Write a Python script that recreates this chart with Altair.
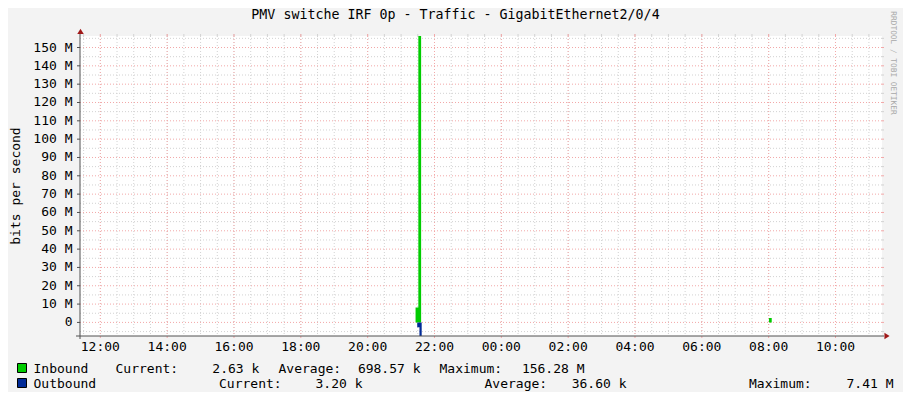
import altair as alt
import pandas as pd

# ---------------- data ----------------
TITLE = "PMV switche IRF 0p - Traffic - GigabitEthernet2/0/4"
Y_TITLE = "bits per second"
SIDE_TEXT = "RRDTOOL / TOBI OETIKER"

START = "2024-05-06T11:23:30"
END = "2024-05-07T11:23:30"

in_times = ["2024-05-06T11:23:30", "2024-05-06T21:26:00", "2024-05-06T21:31:00",
            "2024-05-06T21:36:00", "2024-05-07T08:00:30", "2024-05-07T08:05:30",
            "2024-05-07T11:23:30"]
in_values = [2630, 8.2e6, 156.28e6, 2630, 2.4e6, 2630, 2630]

out_times = ["2024-05-06T11:23:30", "2024-05-06T21:29:00", "2024-05-06T21:33:00",
             "2024-05-06T21:37:00", "2024-05-07T11:23:30"]
out_values = [3200, 2.7e6, 7.41e6, 3200, 3200]

major_times = ["2024-05-06T12:00", "2024-05-06T14:00", "2024-05-06T16:00", "2024-05-06T18:00",
               "2024-05-06T20:00", "2024-05-06T22:00", "2024-05-07T00:00", "2024-05-07T02:00",
               "2024-05-07T04:00", "2024-05-07T06:00", "2024-05-07T08:00", "2024-05-07T10:00"]
minor_times = [t.strftime("%Y-%m-%dT%H:%M") for t in
               pd.date_range("2024-05-06T11:30", "2024-05-07T11:00", freq="30min")]

y_major = [0, 10e6, 20e6, 30e6, 40e6, 50e6, 60e6, 70e6, 80e6, 90e6, 100e6,
           110e6, 120e6, 130e6, 140e6, 150e6]
y_minor = [-5e6, 5e6, 15e6, 25e6, 35e6, 45e6, 55e6, 65e6, 75e6, 85e6, 95e6,
           105e6, 115e6, 125e6, 135e6, 145e6, 155e6]
Y_MIN = -7.41e6
Y_MAX = 156.28e6

series_names = ["Inbound", "Outbound"]
stat_current = ["2.63 k", "3.20 k"]
stat_average = ["698.57 k", "36.60 k"]
stat_maximum = ["156.28 M", "7.41 M"]

# ---------------- style ----------------
FONT = "DejaVu Sans Mono"
FS = 13
IN_COLOR = "#00CC00"
OUT_COLOR = "#002A97"
MGRID = "#F2A8A8"
GRID = "#D2D2D2"
AXIS = "#505050"
ARROW = "#A01818"
W, H = 802, 300


def dt(s):
    t = pd.Timestamp(s)
    return alt.DateTime(year=t.year, month=t.month, date=t.day,
                        hours=t.hour, minutes=t.minute, seconds=t.second)


xscale = alt.Scale(domain=[dt(START), dt(END)])
yscale = alt.Scale(domain=[Y_MIN, Y_MAX], nice=False, zero=False)
one = pd.DataFrame({"k": [0]})

df_vmin = pd.DataFrame({"time": minor_times})
df_vmaj = pd.DataFrame({"time": major_times})
df_hmin = pd.DataFrame({"v": y_minor})
df_hmaj = pd.DataFrame({"v": y_major})


def vrule(df, color, y1, y2, dash):
    kw = dict(color=color, strokeWidth=1)
    if dash:
        kw["strokeDash"] = [1, 2]
    return alt.Chart(df).mark_rule(**kw).encode(
        x=alt.X("time:T", scale=xscale, axis=None), y=alt.value(y1), y2=alt.value(y2))


def hrule(df, color, x1, x2, dash):
    kw = dict(color=color, strokeWidth=1)
    if dash:
        kw["strokeDash"] = [1, 2]
    return alt.Chart(df).mark_rule(**kw).encode(
        y=alt.Y("v:Q", scale=yscale, axis=None), x=alt.value(x1), x2=alt.value(x2))


def txt(s, x, y, align="left", color="#000000", size=FS, angle=0, baseline="alphabetic"):
    return alt.Chart(one).mark_text(text=s, align=align, baseline=baseline, font=FONT,
                                    fontSize=size, color=color, angle=angle).encode(
        x=alt.value(x), y=alt.value(y))


df_in = pd.DataFrame({"time": in_times, "bps": in_values})
df_out = pd.DataFrame({"time": out_times, "bps": out_values})

area_in = alt.Chart(df_in).mark_area(interpolate="step-after", color=IN_COLOR, opacity=1).encode(
    x=alt.X("time:T", scale=xscale, axis=None),
    y=alt.Y("bps:Q", scale=yscale, axis=None),
    y2=alt.datum(0))

area_out = alt.Chart(df_out).transform_calculate(neg="-datum.bps").mark_area(
    interpolate="step-after", color=OUT_COLOR, opacity=1).encode(
    x=alt.X("time:T", scale=xscale, axis=None),
    y=alt.Y("neg:Q", scale=yscale, axis=None),
    y2=alt.datum(0))

layers = [
    vrule(df_vmin, GRID, 0, H, True),
    hrule(df_hmin, GRID, 0, W, True),
    vrule(df_vmaj, MGRID, 0, H, True),
    hrule(df_hmaj, MGRID, 0, W, True),
    vrule(df_vmin, GRID, -2, 0, False),
    vrule(df_vmaj, MGRID, -2, 0, False),
    vrule(df_vmaj, MGRID, H, H + 2, False),
    hrule(df_hmaj, MGRID, W, W + 2, False),
    hrule(df_hmin, GRID, W, W + 2, False),
    area_in,
    area_out,
]

# axis lines, ticks and arrows
layers.append(alt.Chart(one).mark_rule(color=AXIS, strokeWidth=1).encode(
    x=alt.value(-4), x2=alt.value(W + 2), y=alt.value(H)))
layers.append(alt.Chart(one).mark_rule(color=AXIS, strokeWidth=1).encode(
    x=alt.value(0), y=alt.value(-3), y2=alt.value(H + 3)))
layers.append(hrule(df_hmaj, AXIS, -3, 0, False))
layers.append(alt.Chart(one).mark_point(shape="M-1,0.8L1,0.8L0,-0.8Z", filled=True, size=42,
                                        color=ARROW, opacity=1).encode(
    x=alt.value(0.5), y=alt.value(-4.6)))
layers.append(alt.Chart(one).mark_point(shape="M-0.8,-1L0.8,0L-0.8,1Z", filled=True, size=42,
                                        color=ARROW, opacity=1).encode(
    x=alt.value(W + 5), y=alt.value(H)))

# tick labels through the scales
layers.append(alt.Chart(df_hmaj).transform_calculate(
    lbl="datum.v == 0 ? '0' : format(datum.v / 1000000, 'd') + ' M'").mark_text(
    align="right", baseline="middle", font=FONT, fontSize=FS, color="#000000").encode(
    y=alt.Y("v:Q", scale=yscale, axis=None), x=alt.value(-7.5), text="lbl:N"))
layers.append(alt.Chart(df_vmaj).mark_text(
    align="center", baseline="top", font=FONT, fontSize=FS, color="#000000").encode(
    x=alt.X("time:T", scale=xscale, axis=None), y=alt.value(H + 5),
    text=alt.Text("time:T", format="%H:%M")))

# titles
layers.append(txt(Y_TITLE, -64.5, 150, align="center", angle=270, baseline="middle"))
layers.append(txt(TITLE, 375.5, -17.5, align="center", size=13.3))
layers.append(txt(SIDE_TEXT, 813, 27, align="center", color="#A8A8A8", size=7.8,
                  angle=90, baseline="middle"))

# legend
colors = [IN_COLOR, OUT_COLOR]
rows_y = [337, 352]
cur_lbl_x = [35.5, 139]
cur_val_x = [179.3, 282.5]
avg_lbl_x = [198.5, 404.5]
avg_val_x = [340.5, 546.5]
max_lbl_x = [359.5, 669]
max_val_x = [504.5, 813.5]
for i in range(2):
    yb = rows_y[i]
    layers.append(alt.Chart(one).mark_rect(color=colors[i], stroke="#000000", strokeWidth=1).encode(
        x=alt.value(-62.5), x2=alt.value(-53.5), y=alt.value(yb - 9.5), y2=alt.value(yb - 0.5)))
    layers.append(txt(series_names[i], -46.5, yb))
    layers.append(txt("Current:", cur_lbl_x[i], yb))
    layers.append(txt(stat_current[i], cur_val_x[i], yb, align="right"))
    layers.append(txt("Average:", avg_lbl_x[i], yb))
    layers.append(txt(stat_average[i], avg_val_x[i], yb, align="right"))
    layers.append(txt("Maximum:", max_lbl_x[i], yb))
    layers.append(txt(stat_maximum[i], max_val_x[i], yb, align="right"))

chart = alt.layer(*layers).properties(
    width=W, height=H, background="#F3F3F3",
    padding={"left": 72, "top": 28, "right": 21, "bottom": 56},
    autosize=alt.AutoSizeParams(type="none"),
).configure_view(stroke=None, fill="#FFFFFF")

chart.save("out.html", embed_options={"renderer": "svg", "actions": False})
